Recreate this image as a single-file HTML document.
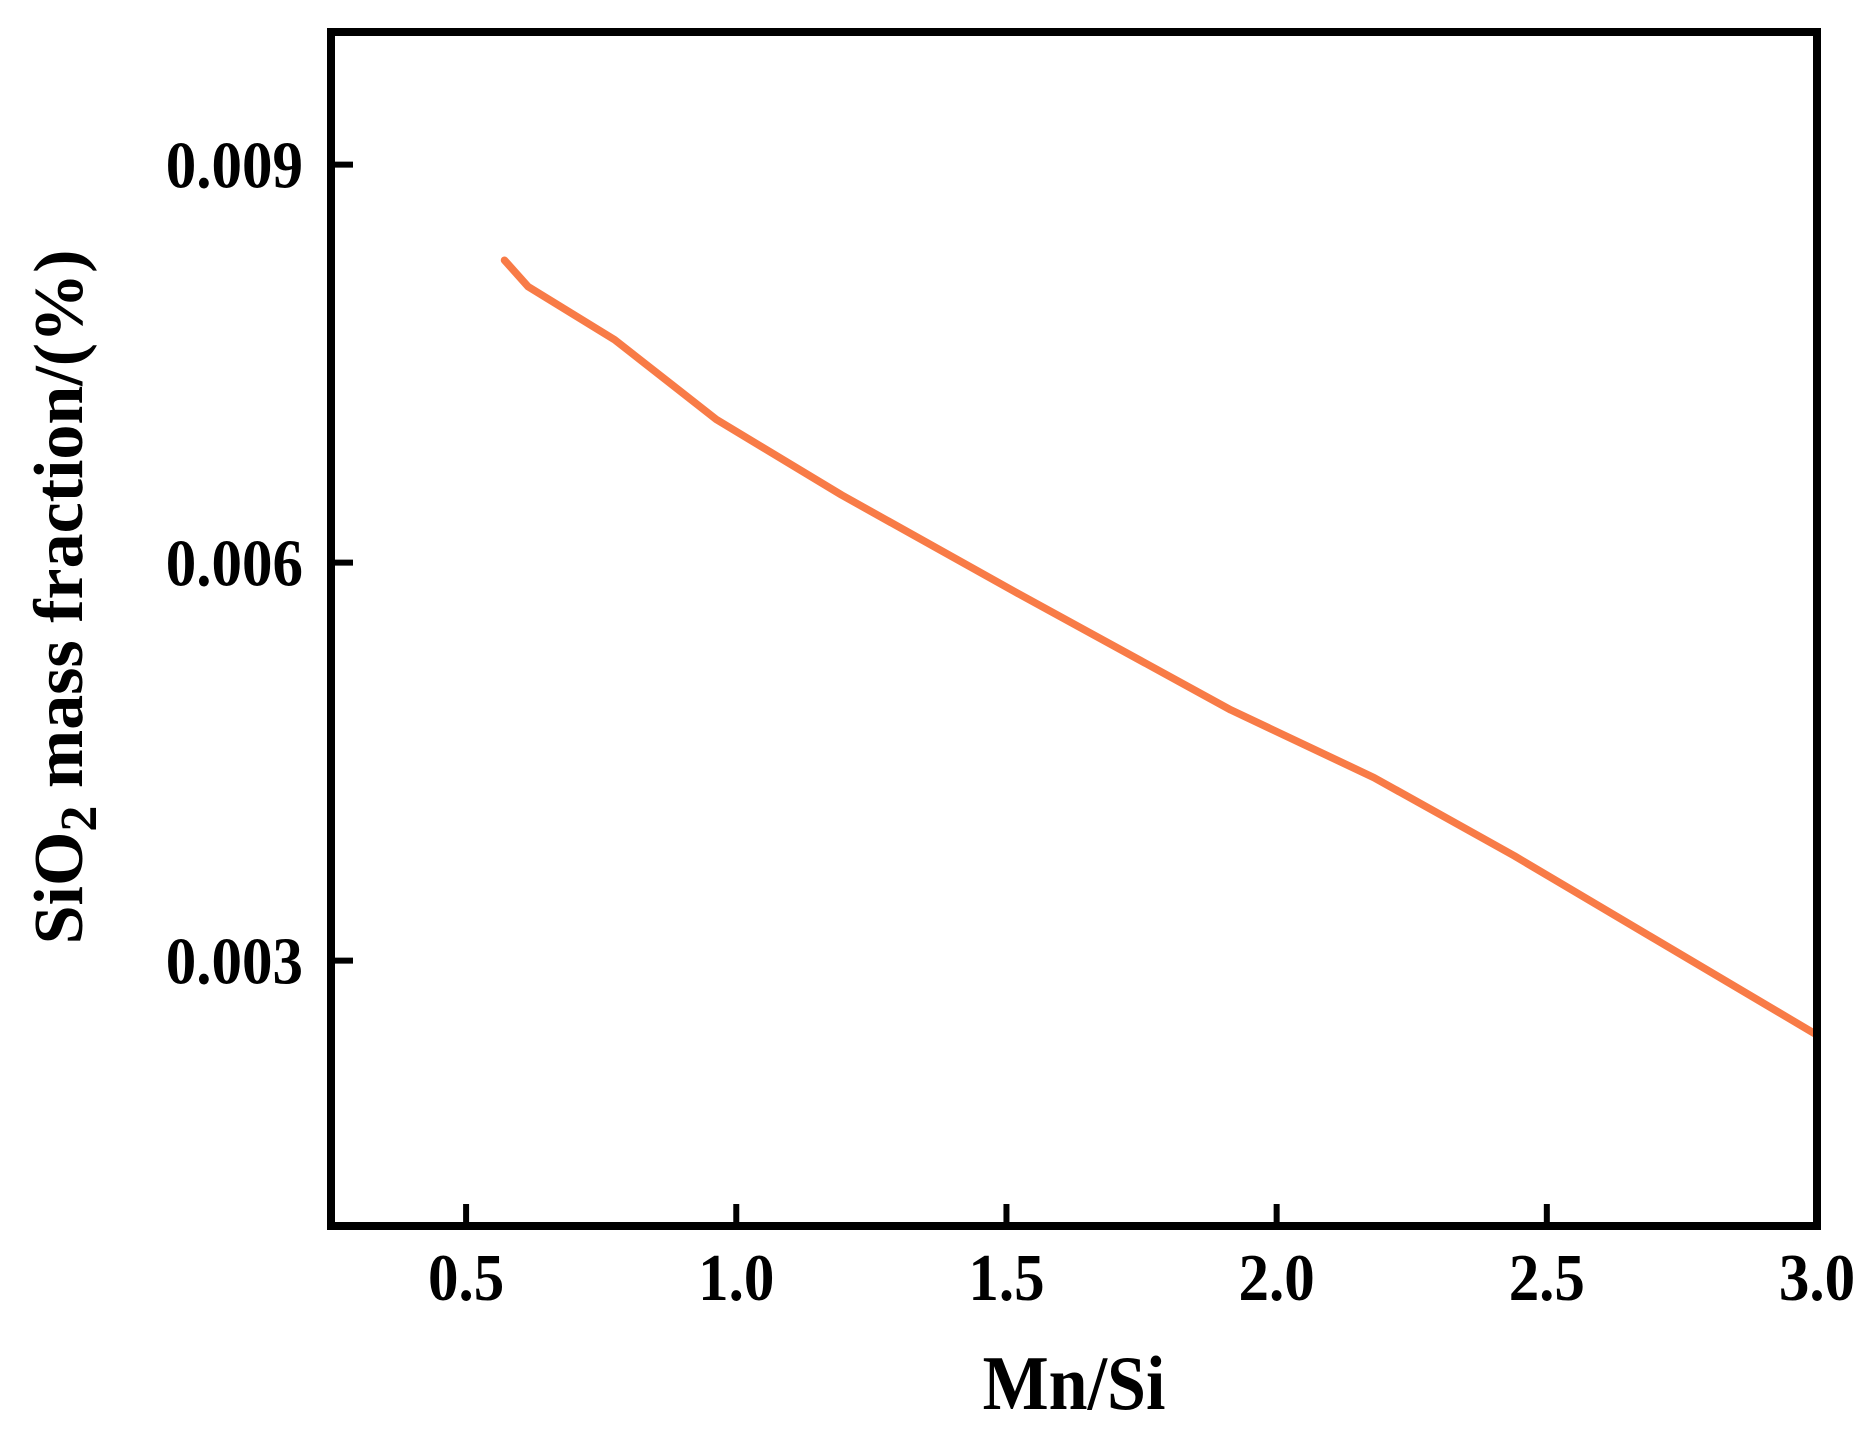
<!DOCTYPE html>
<html><head><meta charset="utf-8"><style>
html,body{margin:0;padding:0;background:#fff;}
svg text{font-family:"Liberation Serif",serif;font-weight:bold;fill:#000;}
</style></head><body>
<svg width="1871" height="1433" viewBox="0 0 1871 1433">
<g id="ticks"></g>
<path id="series" fill="none" stroke="#f87b47" stroke-width="7.5" stroke-linejoin="round" stroke-linecap="round"/>
<rect x="331" y="32" width="1486" height="1194" fill="none" stroke="#000" stroke-width="8"/>
<text x="1074" y="1409" font-size="70" text-anchor="middle" transform="translate(0,-140.9) scale(1,1.1)">Mn/Si</text>
<text transform="translate(82,597) rotate(-90)" font-size="70" text-anchor="middle">SiO<tspan font-size="52" dy="14">2</tspan><tspan dy="-14"> mass fraction/(%)</tspan></text>
</svg>
<script>
const xValues = [0.571, 0.615, 0.775, 0.963, 1.195, 1.516, 1.915, 2.18, 2.44, 3.0];
const yValues = [0.00828, 0.00808, 0.00768, 0.00708, 0.00651, 0.00578, 0.00489, 0.00438, 0.00379, 0.00244];
const xTicks = [0.5, 1.0, 1.5, 2.0, 2.5, 3.0];
const xTickLabels = ["0.5", "1.0", "1.5", "2.0", "2.5", "3.0"];
const yTicks = [0.003, 0.006, 0.009];
const yTickLabels = ["0.003", "0.006", "0.009"];
const X0 = 331, X1 = 1817, Y0 = 1226, Y1 = 32;
const xMin = 0.25, xMax = 3.0, yMin = 0.001, yMax = 0.010;
function sx(v){ return X0 + (v - xMin) / (xMax - xMin) * (X1 - X0); }
function sy(v){ return Y0 - (v - yMin) / (yMax - yMin) * (Y0 - Y1); }
const NS = "http://www.w3.org/2000/svg";
const g = document.getElementById("ticks");
xTicks.forEach((t, i) => {
  const l = document.createElementNS(NS, "line");
  
  
  l.setAttribute("x1", sx(t)); l.setAttribute("x2", sx(t));
  l.setAttribute("y1", Y0); l.setAttribute("y2", Y0 - 22);
  l.setAttribute("stroke", "#000"); l.setAttribute("stroke-width", "6");
  g.appendChild(l);
  const tx = document.createElementNS(NS, "text");
  
  
  tx.setAttribute("x", sx(t)); tx.setAttribute("y", 0);
  tx.setAttribute("transform", "translate(0,1300) scale(1,1.1)");
  tx.setAttribute("font-size", "61"); tx.setAttribute("text-anchor", "middle");
  tx.textContent = xTickLabels[i];
  g.appendChild(tx);
});
yTicks.forEach((t, i) => {
  const l = document.createElementNS(NS, "line");
  
  
  l.setAttribute("x1", X0); l.setAttribute("x2", X0 + 22);
  l.setAttribute("y1", sy(t)); l.setAttribute("y2", sy(t));
  l.setAttribute("stroke", "#000"); l.setAttribute("stroke-width", "6");
  g.appendChild(l);
  const tx = document.createElementNS(NS, "text");
  
  
  tx.setAttribute("x", 303); tx.setAttribute("y", 0);
  tx.setAttribute("transform", "translate(0," + (sy(t) + 23) + ") scale(1,1.1)");
  tx.setAttribute("font-size", "61"); tx.setAttribute("text-anchor", "end");
  tx.textContent = yTickLabels[i];
  g.appendChild(tx);
});
document.getElementById("series").setAttribute("d",
  xValues.map((x, i) => (i ? "L" : "M") + sx(x).toFixed(1) + "," + sy(yValues[i]).toFixed(1)).join(" "));
</script>
</body></html>
